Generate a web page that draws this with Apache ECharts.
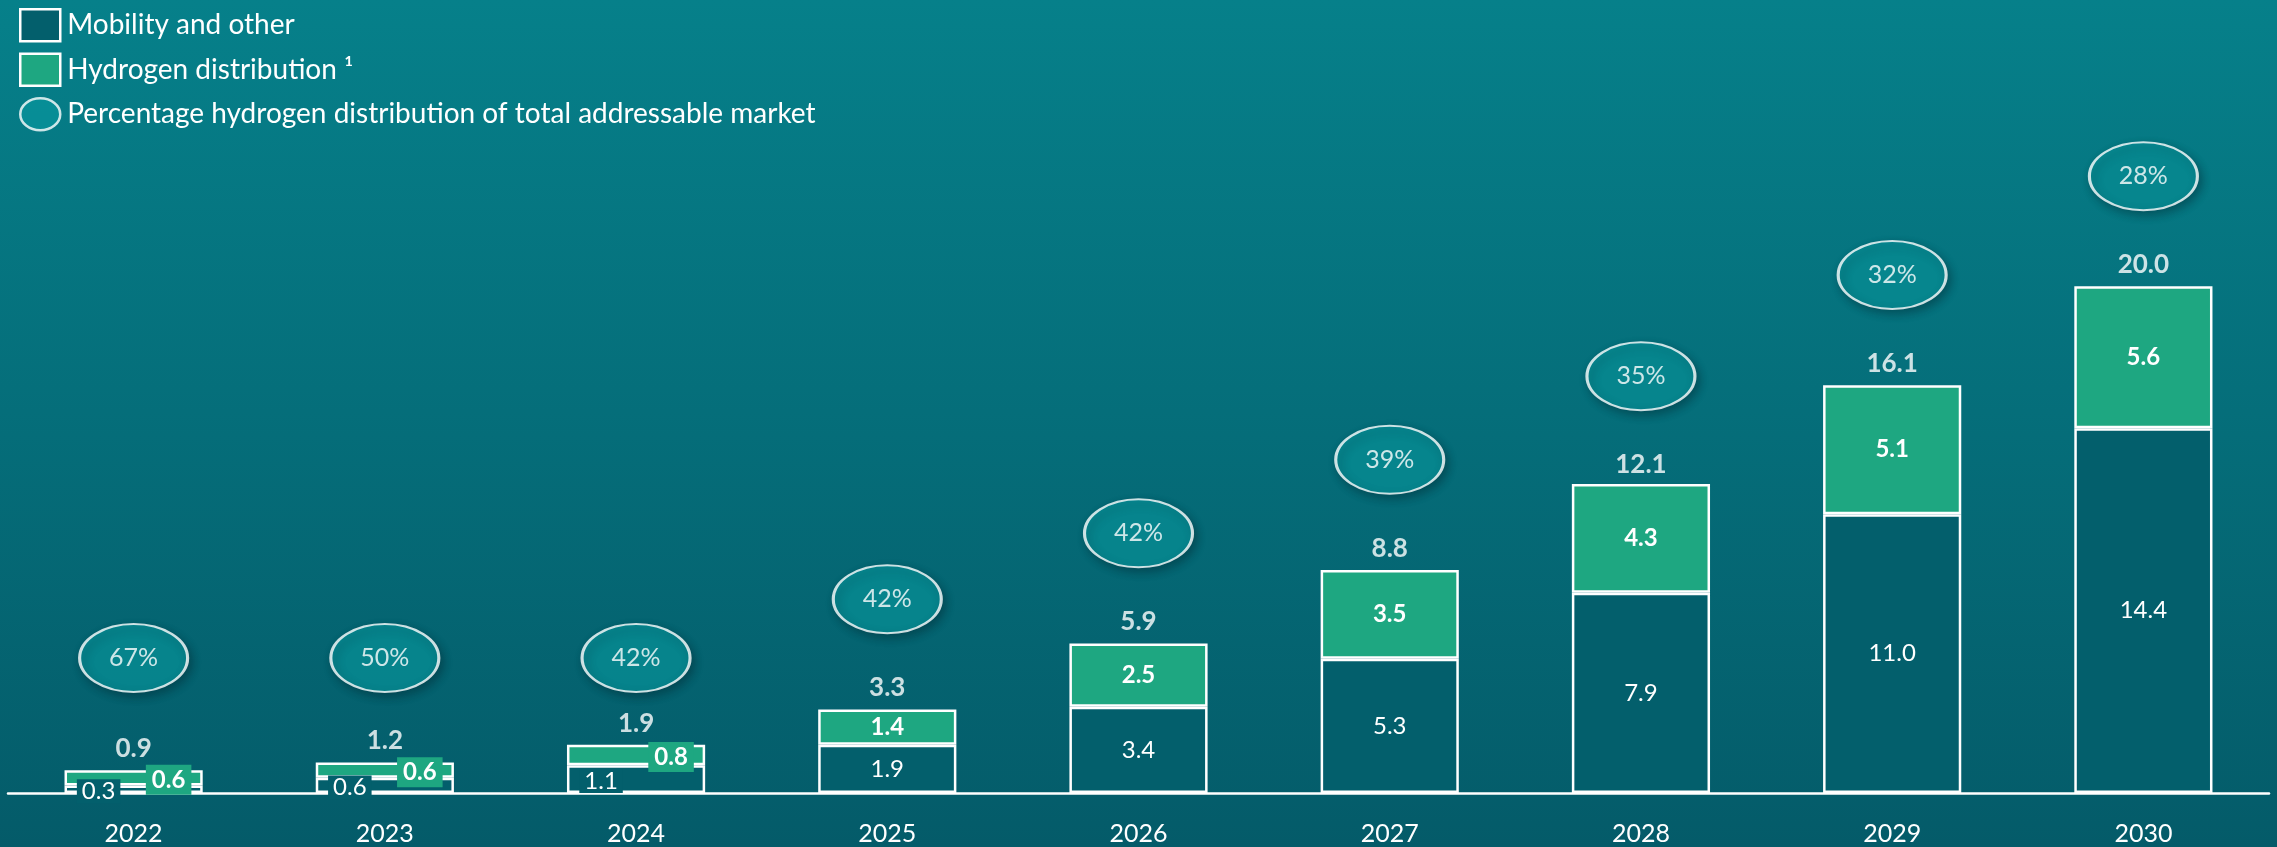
<!DOCTYPE html>
<html>
<head>
<meta charset="utf-8">
<title>Total addressable market</title>
<script src="https://cdn.jsdelivr.net/npm/echarts@6/dist/echarts.min.js"></script>
<style>
  html, body { margin: 0; padding: 0; }
  #chart { width: 2277px; height: 847px; }
</style>
</head>
<body>
<div id="chart"></div>
<script>
// data
const years = ['2022', '2023', '2024', '2025', '2026', '2027', '2028', '2029', '2030']
const mobility = [0.3, 0.6, 1.1, 1.9, 3.4, 5.3, 7.9, 11.0, 14.4]
const hydrogen = [0.6, 0.6, 0.8, 1.4, 2.5, 3.5, 4.3, 5.1, 5.6]
const totals = [0.9, 1.2, 1.9, 3.3, 5.9, 8.8, 12.1, 16.1, 20.0]
const shares = [67, 50, 42, 42, 42, 39, 35, 32, 28]

const DARK = '#035f6c'
const GREEN = '#1ea781'
const BUBBLE = '#08929a'
const FONT = 'Lato'
const ELLIPSE = 'path://M0,50 A50,50 0 1 1 100,50 A50,50 0 1 1 0,50 Z'

// bars too thin to hold their labels get them pushed to the side on a box
const thin = totals.map(t => t < 2.5)

const mobilityData = mobility.map((v, i) => thin[i] ? {
  value: v,
  label: { offset: [-35, 2], backgroundColor: DARK, padding: [0, 5] }
} : v)

const hydrogenData = hydrogen.map((v, i) => thin[i] ? {
  value: v,
  label: { offset: [35, 2], backgroundColor: GREEN, padding: [3, 6] }
} : v)

// bubbles sit a fixed distance above the total, small bars share one level
const bubbleData = totals.map((t, i) => ({
  value: thin[i] ? 5.33 : t + 4.35,
  share: shares[i]
}))

let myChart = echarts.init(document.getElementById('chart'))

myChart.setOption({
  animation: false,
  backgroundColor: new echarts.graphic.LinearGradient(0, 0, 0, 1, [
    { offset: 0, color: '#06808a' },
    { offset: 1, color: '#045b69' }
  ]),
  textStyle: { fontFamily: FONT },
  legend: {
    orient: 'vertical',
    left: 14,
    top: 3,
    itemWidth: 40,
    itemHeight: 32,
    itemGap: 10,
    symbolKeepAspect: false,
    textStyle: { color: '#fff', fontSize: 28, lineHeight: 33, fontFamily: FONT, padding: [0, 0, 0, 2] },
    data: [
      { name: 'Mobility and other', icon: 'rect', itemStyle: { color: DARK, borderColor: '#fff', borderWidth: 2.5 } },
      { name: 'Hydrogen distribution ¹', icon: 'rect', itemStyle: { color: GREEN, borderColor: '#fff', borderWidth: 2.5 } },
      { name: 'Percentage hydrogen distribution of total addressable market', icon: ELLIPSE,
        itemStyle: { color: BUBBLE, borderColor: '#fff', borderWidth: 2.5 } }
    ]
  },
  grid: { left: 8, right: 8, top: 33, bottom: 54 },
  xAxis: {
    type: 'category',
    data: years,
    axisLine: { lineStyle: { color: '#fff', width: 2.5 } },
    axisTick: { show: false },
    axisLabel: { color: '#fff', fontSize: 25, margin: 28, fontFamily: FONT }
  },
  yAxis: {
    type: 'value',
    min: 0,
    max: 30,
    show: false,
    splitLine: { show: false }
  },
  series: [
    {
      name: 'Mobility and other',
      type: 'bar',
      stack: 'tam',
      barWidth: '55%',
      data: mobilityData,
      itemStyle: { color: DARK, borderColor: '#fff', borderWidth: 2.5 },
      label: { show: true, position: 'inside', color: '#fff', fontSize: 24, fontFamily: FONT,
        formatter: p => p.value.toFixed(1) }
    },
    {
      name: 'Hydrogen distribution ¹',
      type: 'bar',
      stack: 'tam',
      barWidth: '55%',
      data: hydrogenData,
      itemStyle: { color: GREEN, borderColor: '#fff', borderWidth: 2.5 },
      label: { show: true, position: 'inside', color: '#fff', fontSize: 24, fontWeight: 'bold', fontFamily: FONT,
        formatter: p => p.value.toFixed(1) }
    },
    {
      name: 'total',
      type: 'scatter',
      data: totals,
      symbolSize: 1,
      itemStyle: { color: 'rgba(0,0,0,0)' },
      label: { show: true, position: 'top', distance: 8, color: '#fff', fontSize: 26, fontWeight: 'bold',
        fontFamily: FONT, formatter: p => p.value.toFixed(1) }
    },
    {
      name: 'Percentage hydrogen distribution of total addressable market',
      type: 'scatter',
      data: bubbleData,
      symbol: ELLIPSE,
      symbolSize: [108, 68],
      itemStyle: {
        color: BUBBLE,
        borderColor: '#fff',
        borderWidth: 2.5,
        shadowBlur: 8,
        shadowOffsetX: 3,
        shadowOffsetY: 4,
        shadowColor: 'rgba(0,30,40,0.45)'
      },
      label: { show: true, position: 'inside', color: '#fff', fontSize: 25, fontFamily: FONT,
        formatter: p => p.data.share + '%' }
    }
  ]
})
</script>
</body>
</html>
